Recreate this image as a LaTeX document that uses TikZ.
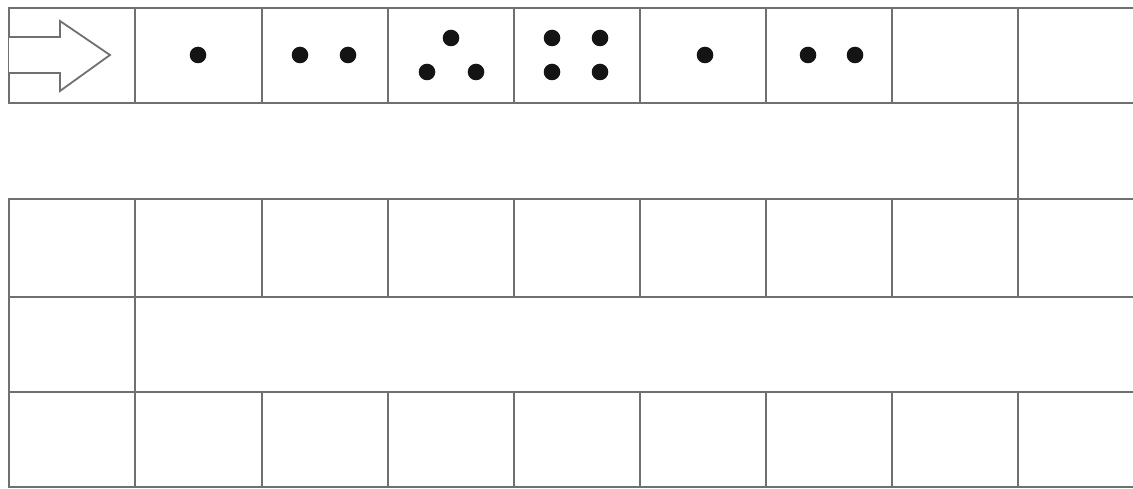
\documentclass[tikz,border=0pt]{standalone}
\definecolor{lineg}{RGB}{112,112,112}
\definecolor{dotc}{RGB}{20,20,20}
\tikzset{
  gridline/.style={draw=lineg, line width=2.9pt, line cap=rect},
  arrowline/.style={draw=lineg, line width=1.8pt, line join=miter, fill=white},
  pip/.style={fill=dotc, draw=none}
}
\begin{document}
\begin{tikzpicture}[x=1pt,y=-1pt]
\useasboundingbox (0,0) rectangle (1133,489);
% horizontal lines
\foreach \y in {8,103,199,297,392,487}
  \draw[gridline] (9,\y) -- (1140,\y);
% full rows: verticals
\foreach \x in {9,135,262,388,514,640,766,892,1018}{
  \draw[gridline] (\x,8) -- (\x,103);
  \draw[gridline] (\x,199) -- (\x,297);
  \draw[gridline] (\x,392) -- (\x,487);
}
% connecting cells
\draw[gridline] (1018,103) -- (1018,199);
\draw[gridline] (9,297) -- (9,392);
\draw[gridline] (135,297) -- (135,392);
% start arrow
\draw[arrowline] (9,37) -- (60,37) -- (60,21) -- (110,55) -- (60,91) -- (60,73) -- (9,73);
% pips
\foreach \p in {(198,55),(300,55),(348,55),(451,38),(427,72),(476,72),(552,38),(600,38),(552,72),(600,72),(705,55),(808,55),(855,55)}
  \fill[pip] \p circle (8.3);
\end{tikzpicture}
\end{document}
